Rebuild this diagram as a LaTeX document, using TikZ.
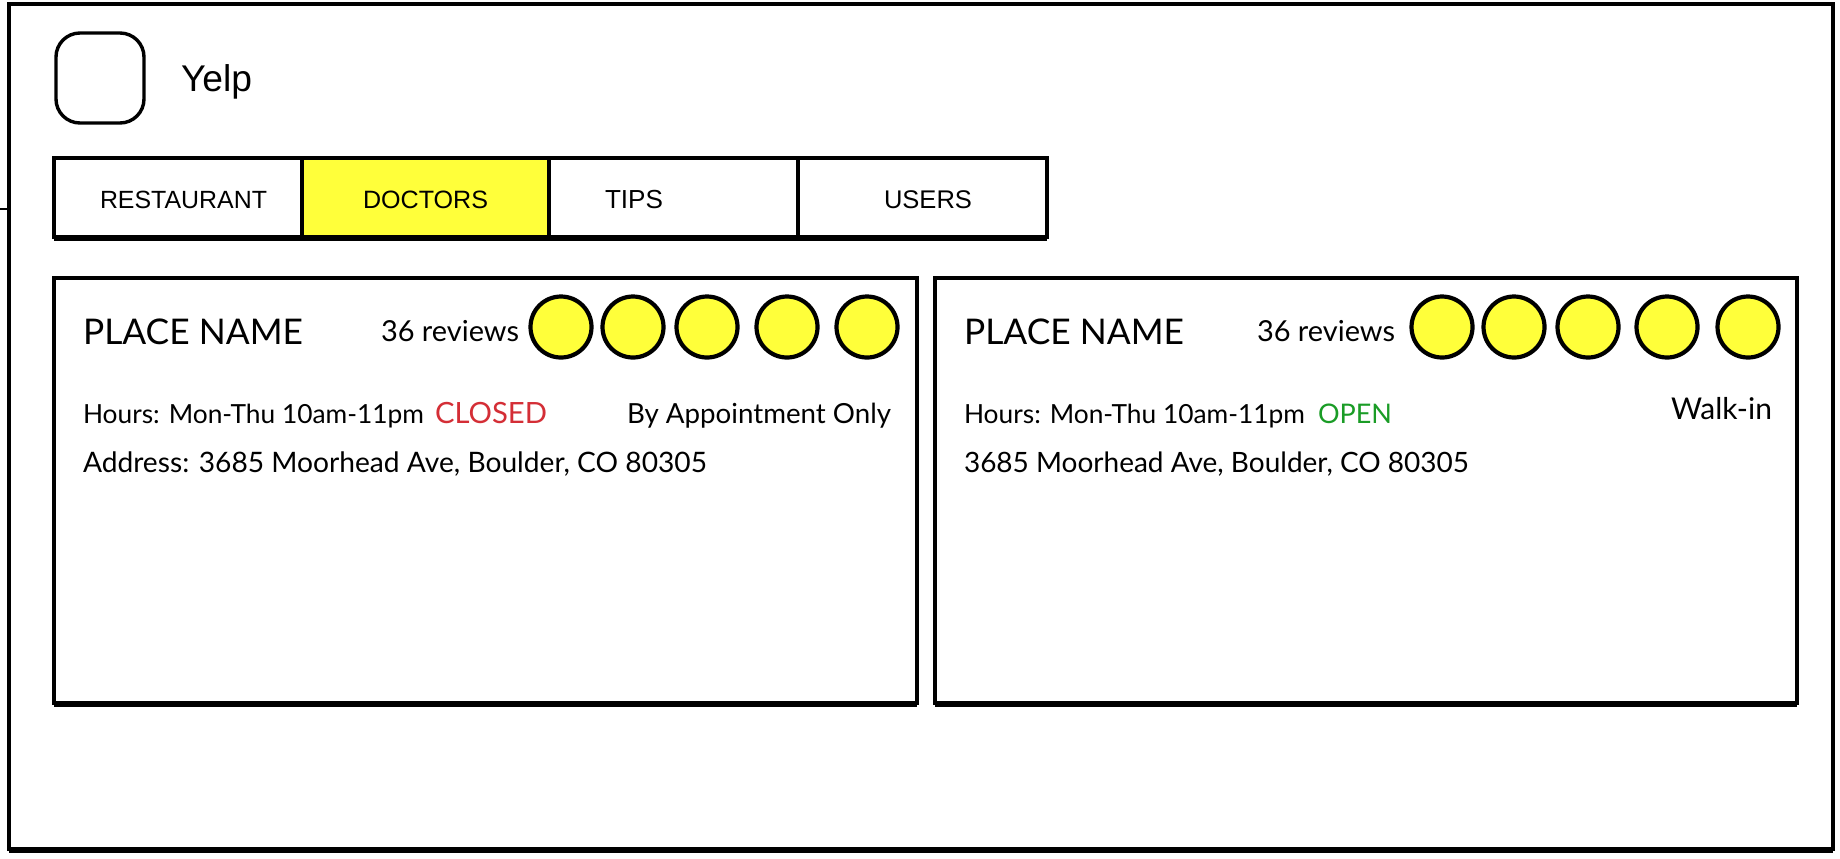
\documentclass[tikz,border=0pt]{standalone}
\usepackage{fontspec}
\setmainfont{Liberation Sans}
\newfontfamily\cardfont{Lato}
\usepackage{graphicx}
\definecolor{mkyellow}{RGB}{255,255,58}
\definecolor{mkred}{RGB}{212,46,54}
\definecolor{mkgreen}{RGB}{26,156,38}
\newcommand\mkfit[2]{\resizebox{\dimexpr #1pt/2\relax}{!}{#2}}
\tikzset{
  frame/.style={draw=black, line width=2.1pt},
  tabbox/.style={draw=black, line width=2.1pt},
  tabsel/.style={tabbox, fill=mkyellow},
  card/.style={draw=black, line width=2.2pt, fill=white},
  shadowline/.style={draw=black, line width=1.4pt},
  starc/.style={circle, draw=black, line width=2.1pt, fill=mkyellow, minimum size=30.5pt, inner sep=0pt},
  txt/.style={anchor=base west, inner sep=0pt, outer sep=0pt},
  ctxt/.style={txt, font=\cardfont},
}
\begin{document}
\begin{tikzpicture}[x=0.5pt,y=-0.5pt]
  \path[fill=white] (0,0) rectangle (1840,858);
  \useasboundingbox (0,0) rectangle (1840,858);
  % outer frame
  \draw[frame] (9,4) rectangle (1833,849);
  \draw[shadowline] (9,851.5) -- (1833,851.5);
  \draw[line width=1pt] (0,209) -- (9,209);
  % logo
  \draw[line width=1.7pt, rounded corners=12pt] (56,33) rectangle (144,123);
  \node[txt] (yelp) at (181,91) {\mkfit{71}{Yelp}};
  % tabs
  \draw[tabbox] (54,158) rectangle (302,237);
  \draw[tabsel] (302,158) rectangle (549,237);
  \draw[tabbox] (549,158) rectangle (798,237);
  \draw[tabbox] (798,158) rectangle (1047,237);
  \draw[shadowline] (54,239.5) -- (1047,239.5);
  \node[txt] (t1) at (100,208) {\mkfit{167}{RESTAURANT}};
  \node[txt] (t2) at (363,208) {\mkfit{125}{DOCTORS}};
  \node[txt] (t3) at (605,208) {\mkfit{58}{TIPS}};
  \node[txt] (t4) at (884,208) {\mkfit{88}{USERS}};
  % left card
  \draw[card] (54,278) rectangle (917,703);
  \draw[shadowline] (54,706) -- (917,706);
  \node[ctxt] (a1) at (83,344) {\mkfit{220}{PLACE NAME}};
  \node[ctxt] (a2) at (381,341) {\mkfit{138}{36 reviews}};
  \foreach \i/\cx in {1/561,2/633,3/707,4/787,5/867}
    \node[starc] (as\i) at (\cx,327) {};
  \node[ctxt] (a3) at (83,423) {\mkfit{341}{Hours: Mon-Thu 10am-11pm}};
  \node[ctxt, text=mkred] (a4) at (435,423) {\mkfit{112}{CLOSED}};
  \node[ctxt] (a5) at (627,423) {\mkfit{264}{By Appointment Only}};
  \node[ctxt] (a6) at (83,472) {\mkfit{624}{Address: 3685 Moorhead Ave, Boulder, CO 80305}};
  % right card
  \draw[card] (935,278) rectangle (1797,703);
  \draw[shadowline] (935,706) -- (1797,706);
  \node[ctxt] (b1) at (964,344) {\mkfit{220}{PLACE NAME}};
  \node[ctxt] (b2) at (1257,341) {\mkfit{138}{36 reviews}};
  \foreach \i/\cx in {1/1442,2/1514,3/1588,4/1667,5/1748}
    \node[starc] (bs\i) at (\cx,327) {};
  \node[ctxt] (b3) at (964,423) {\mkfit{341}{Hours: Mon-Thu 10am-11pm}};
  \node[ctxt, text=mkgreen] (b4) at (1318,423) {\mkfit{74}{OPEN}};
  \node[ctxt] (b5) at (1671,419) {\mkfit{101}{Walk-in}};
  \node[ctxt] (b6) at (964,472) {\mkfit{505}{3685 Moorhead Ave, Boulder, CO 80305}};
\end{tikzpicture}
\end{document}
